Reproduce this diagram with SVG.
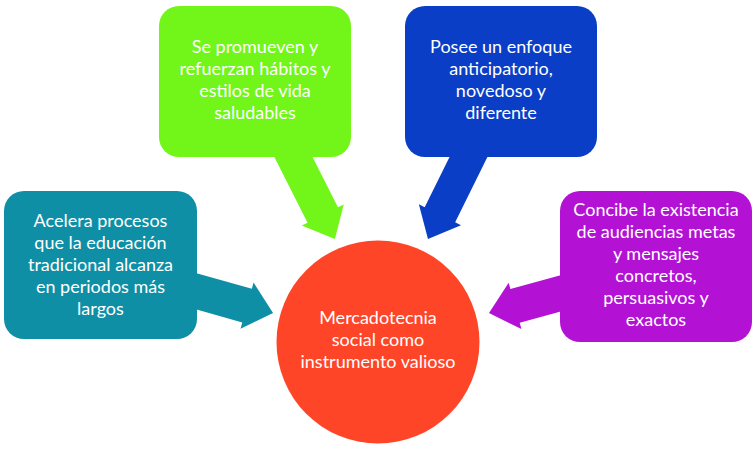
<svg xmlns="http://www.w3.org/2000/svg" width="756" height="449" viewBox="0 0 756 449">
<style>
.t{font-family:Lato,"Open Sans","Liberation Sans",sans-serif;font-size:18px;fill:#ffffff;text-anchor:middle}
.teal{fill:#0F8FA5}.green{fill:#72F518}.blue{fill:#0B3EC6}.purple{fill:#B312D5}.red{fill:#FF4527}
</style>
<rect width="756" height="449" fill="#ffffff"/>
<g id="connectors">
<polygon class="teal" transform="translate(190,289.5) rotate(15.8)" points="0,-17.5 59.3,-17.5 59.3,-24 86.3,0 59.3,24 59.3,17.5 0,17.5"/>
<polygon class="green" transform="translate(287.4,145) rotate(63.2)" points="0,-17 78.4,-17 78.4,-23.5 105.4,0 78.4,23.5 78.4,17 0,17"/>
<polygon class="blue" transform="translate(474.4,145) rotate(116.3)" points="0,-17 77.8,-17 77.8,-23.5 104.8,0 77.8,23.5 77.8,17 0,17"/>
<polygon class="purple" transform="translate(567,291.6) rotate(164.6)" points="0,-17.5 53.9,-17.5 53.9,-24 80.9,0 53.9,24 53.9,17.5 0,17.5"/>
</g>
<g id="node-acelera">
<rect class="teal" x="4" y="191" width="193" height="148" rx="20"/>
<text class="t" x="100.5" y="227">Acelera procesos</text>
<text class="t" x="100.5" y="249">que la educación</text>
<text class="t" x="100.5" y="271">tradicional alcanza</text>
<text class="t" x="100.5" y="293">en periodos más</text>
<text class="t" x="100.5" y="315">largos</text>
</g>
<g id="node-promueven">
<rect class="green" x="159" y="6" width="192" height="151" rx="20"/>
<text class="t" x="255" y="53">Se promueven y</text>
<text class="t" x="255" y="75">refuerzan hábitos y</text>
<text class="t" x="255" y="97">estilos de vida</text>
<text class="t" x="255" y="119">saludables</text>
</g>
<g id="node-posee">
<rect class="blue" x="405" y="6" width="192" height="151" rx="20"/>
<text class="t" x="501" y="53">Posee un enfoque</text>
<text class="t" x="501" y="75">anticipatorio,</text>
<text class="t" x="501" y="97">novedoso y</text>
<text class="t" x="501" y="119">diferente</text>
</g>
<g id="node-concibe">
<rect class="purple" x="560" y="191" width="192" height="151" rx="20"/>
<text class="t" x="656" y="216">Concibe la existencia</text>
<text class="t" x="656" y="238">de audiencias metas</text>
<text class="t" x="656" y="260">y mensajes</text>
<text class="t" x="656" y="282">concretos,</text>
<text class="t" x="656" y="304">persuasivos y</text>
<text class="t" x="656" y="326">exactos</text>
</g>
<g id="node-center">
<circle class="red" cx="378" cy="342" r="101.5"/>
<text class="t" x="378" y="324">Mercadotecnia</text>
<text class="t" x="378" y="346">social como</text>
<text class="t" x="378" y="368">instrumento valioso</text>
</g>
</svg>
